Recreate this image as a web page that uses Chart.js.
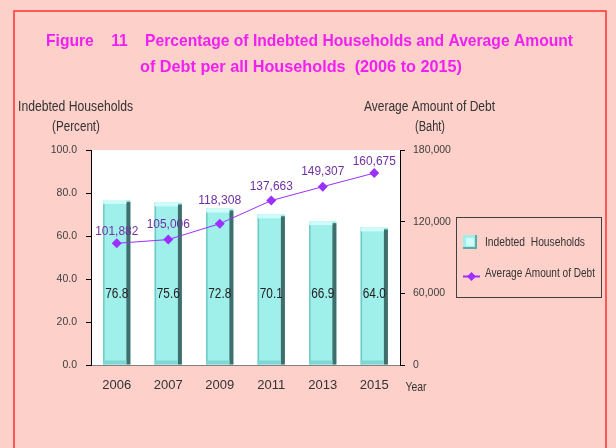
<!DOCTYPE html>
<html><head><meta charset="utf-8">
<script src="https://cdn.jsdelivr.net/npm/chart.js@4.4.0/dist/chart.umd.min.js"></script>
<style>html,body{margin:0;padding:0;background:#FDD0C9;}canvas{display:block}</style>
</head><body><canvas id="c" width="616" height="448"></canvas>
<script>
const years = ['2006','2007','2009','2011','2013','2015'];
const indebtedPct = [76.8,75.6,72.8,70.1,66.9,64.0];
const avgDebt = [101882,105006,118308,137663,149307,160675];
const leftTicks = [0,20,40,60,80,100];
const rightTicks = [0,60000,120000,180000];
const titleLines = ['Figure    11    Percentage of Indebted Households and Average Amount','of Debt per all Households  (2006 to 2015)'];
const seriesNames = ['Indebted  Households','Average Amount of Debt'];
const leftAxisTitle = ['Indebted Households','(Percent)'];
const rightAxisTitle = ['Average Amount of Debt','(Baht)'];
const xAxisTitle = 'Year';

const FONT = "'Liberation Sans',Arial,sans-serif";
const lineLabelOffsets = [12,15,23,14,15,12];

function fitText(ctx, text, cx, cy, w){
  const m = ctx.measureText(text).width;
  const s = Math.min(1, w / m);
  ctx.save();
  ctx.translate(cx, cy);
  ctx.scale(s, 1);
  ctx.textAlign='center';
  ctx.fillText(text, 0, 0);
  ctx.restore();
}

const decor = {
  id:'decor',
  beforeDraw(chart){
    const ctx=chart.ctx, a=chart.chartArea;
    ctx.save();
    ctx.fillStyle='#FDD0C9'; ctx.fillRect(0,0,chart.width,chart.height);
    ctx.fillStyle='#FFFFFF'; ctx.fillRect(a.left,a.top,a.right-a.left,a.bottom-a.top);
    ctx.strokeStyle='#FF3030'; ctx.lineWidth=1.5;
    ctx.strokeRect(14,11,592,460);
    ctx.restore();
  },
  afterDatasetDraw(chart,args){
    if(args.index!==0) return;
    const ctx=chart.ctx;
    ctx.save();
    args.meta.data.forEach(b=>{
      const l=b.x-b.width/2, r=b.x+b.width/2, t=b.y, bt=b.base;
      ctx.fillStyle='#6FC9C6'; ctx.fillRect(l,t,1.5,bt-t);
      ctx.fillStyle='#3F6E6C'; ctx.fillRect(r-4,t+2,4,bt-t-2);
      ctx.fillStyle='#CFFBFA'; ctx.fillRect(l,t,b.width-4,4);
      ctx.fillStyle='#7FD6D3'; ctx.fillRect(l,bt-4,b.width-4,4);
    });
    ctx.restore();
  },
  afterDraw(chart){
    const ctx=chart.ctx, ys=chart.scales.y;
    ctx.save();
    ctx.textAlign='center'; ctx.textBaseline='middle';
    // bar value labels
    ctx.font='14px '+FONT; ctx.fillStyle='#222';
    chart.getDatasetMeta(0).data.forEach((b,i)=>{
      fitText(ctx, indebtedPct[i].toFixed(1), b.x, ys.getPixelForValue(33), 23);
    });
    // line labels
    ctx.font='13px '+FONT; ctx.fillStyle='#7030A0';
    chart.getDatasetMeta(1).data.forEach((p,i)=>{
      fitText(ctx, avgDebt[i].toLocaleString('en-US'), p.x, p.y-lineLabelOffsets[i], 43);
    });
    // title
    ctx.font='bold 17px '+FONT; ctx.fillStyle='#F020F0';
    fitText(ctx, titleLines[0], 309.5, 41, 527);
    fitText(ctx, titleLines[1], 301, 67, 322);
    // axis titles
    ctx.font='14px '+FONT; ctx.fillStyle='#333';
    fitText(ctx, leftAxisTitle[0], 75.5, 107, 115);
    fitText(ctx, leftAxisTitle[1], 76, 127, 48);
    fitText(ctx, rightAxisTitle[0], 429.5, 107, 131);
    fitText(ctx, rightAxisTitle[1], 430, 127, 30);
    ctx.font='13px '+FONT;
    fitText(ctx, xAxisTitle, 416, 387, 21);
    // legend
    ctx.strokeStyle='#404040'; ctx.lineWidth=1;
    ctx.strokeRect(456.5,217.5,145,80);
    ctx.fillStyle='#9FEFEB'; ctx.fillRect(463,235,14,14);
    ctx.fillStyle='#5FA9A6'; ctx.fillRect(463,247,14,2); ctx.fillRect(475,235,2,14);
    ctx.fillStyle='#CFFBFA'; ctx.fillRect(466,238,8,8);
    ctx.font='12px '+FONT; ctx.fillStyle='#333'; ctx.textBaseline='middle';
    fitText(ctx, seriesNames[0], 535, 243, 100);
    ctx.strokeStyle='#9B30FF'; ctx.lineWidth=2;
    ctx.beginPath(); ctx.moveTo(463,276.5); ctx.lineTo(480,276.5); ctx.stroke();
    ctx.fillStyle='#9B30FF';
    ctx.beginPath(); ctx.moveTo(471.5,272); ctx.lineTo(476,276.5); ctx.lineTo(471.5,281); ctx.lineTo(467,276.5); ctx.closePath(); ctx.fill();
    ctx.fillStyle='#333';
    fitText(ctx, seriesNames[1], 540, 274, 110);
    ctx.restore();
  }
};

new Chart(document.getElementById('c'),{
  data:{
    labels:years,
    datasets:[
      {type:'bar',label:seriesNames[0],data:indebtedPct,yAxisID:'y',backgroundColor:'#9FEFEB',borderWidth:0,barPercentage:0.53,categoryPercentage:1,order:2},
      {type:'line',label:seriesNames[1],data:avgDebt,yAxisID:'y2',borderColor:'#9B30FF',backgroundColor:'#9B30FF',borderWidth:1,pointStyle:'rectRot',pointRadius:5,pointBackgroundColor:'#9B30FF',pointBorderWidth:0,tension:0,order:1}
    ]
  },
  options:{
    responsive:false,animation:false,
    layout:{padding:{top:150,left:0,right:0,bottom:0}},
    plugins:{legend:{display:false},tooltip:{enabled:false},title:{display:false}},
    scales:{
      x:{
        grid:{display:false,drawTicks:false},
        border:{display:true,color:'#808080',width:1},
        ticks:{padding:13,color:'#333',font:{family:FONT,size:13},maxRotation:0},
        afterFit(s){s.height=83;}
      },
      y:{
        position:'left',min:0,max:100,
        afterBuildTicks(s){s.ticks=leftTicks.map(v=>({value:v}));},
        grid:{drawOnChartArea:false,drawTicks:true,tickLength:5,color:'#000'},
        border:{display:true,color:'#000',width:1},
        ticks:{padding:9,color:'#404040',font:{family:FONT,size:10.5},callback:v=>Number(v).toFixed(1)},
        afterFit(s){s.width=91;}
      },
      y2:{
        position:'right',min:0,max:180000,
        afterBuildTicks(s){s.ticks=rightTicks.map(v=>({value:v}));},
        grid:{drawOnChartArea:false,drawTicks:true,tickLength:5,color:'#000'},
        border:{display:true,color:'#000',width:1},
        ticks:{padding:8,color:'#404040',font:{family:FONT,size:10.5},callback:v=>Number(v).toLocaleString('en-US')},
        afterFit(s){s.width=216;}
      }
    }
  },
  plugins:[decor]
});
</script></body></html>
